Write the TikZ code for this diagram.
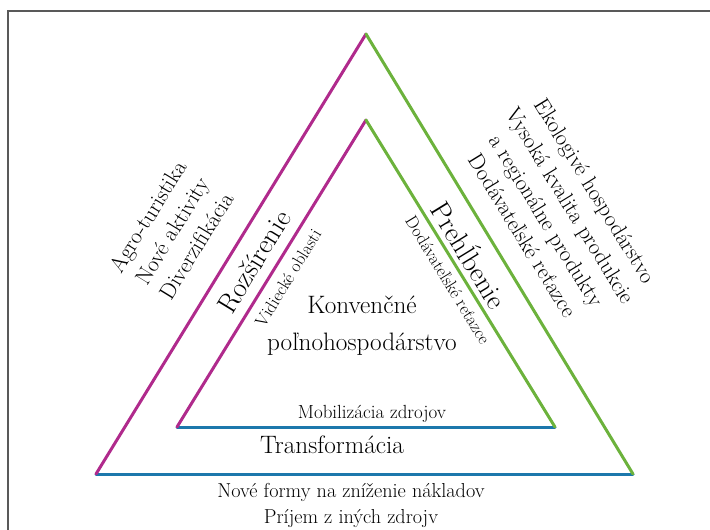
\documentclass[tikz,border=0pt]{standalone}
\usepackage{fontspec}
\usepackage{xcolor}

\definecolor{rozsir}{RGB}{176,42,140}
\definecolor{prehlb}{RGB}{108,178,60}
\definecolor{transf}{RGB}{28,120,172}

\begin{document}
\begin{tikzpicture} [x=1pt, y=-1pt, side/.style = {line width=3pt, line cap=round},
    big/.style = {font=\fontsize{28}{32}\selectfont},
    small/.style = {font=\fontsize{17.5}{20}\selectfont},
    outer/.style = {font=\fontsize{22.4}{28.5}\selectfont, align=center},
    lside/.style = {rotate=58.5}, rside/.style = {rotate=-58.5}]
    \useasboundingbox (0,0) rectangle (710,530);
    \draw[gray!70!black, line width=1.5pt] (8,530) -- (8,11) -- (710,11);

    \coordinate (A) at (366,34);
    \coordinate (B) at (96,474);
    \coordinate (C) at (633,474);
    \coordinate (a) at (366,120);
    \coordinate (b) at (177,427);
    \coordinate (c) at (555,427);

    \draw[side, transf] (B) -- (C);
    \draw[side, rozsir] (B) -- (A);
    \draw[side, prehlb] (A) -- (C);
    \draw[side, transf] (b) -- (c);
    \draw[side, rozsir] (b) -- (a);
    \draw[side, prehlb] (a) -- (c);

    \node[outer, lside] (vonkajsiL) at (172,231) {Agro-turistika\\Nové aktivity\\Diverzifikácia};
    \node[outer, rside] (vonkajsiP) at (559,213) {Ekologivé hospodárstvo\\Vysoká kvalita produkcie\\a regionálne produkty\\Dodávateľské reťazce};
    \node[big, lside] (rozsirenie) at (254,262) {Rozšírenie};
    \node[small, lside] (vidiecke) at (288,278) {Vidiecké oblasti};
    \node[big, rside] (prehlbenie) at (471,254) {Prehĺbenie};
    \node[small, rside] (retazce) at (448,280) {Dodávateľské reťazce};
    \node[font=\fontsize{25.2}{37}\selectfont, align=center] (konv) at (362,326) {Konvenčné\\poľnohospodárstvo};
    \node[font=\fontsize{19}{22}\selectfont, anchor=base] (mob) at (372,418) {Mobilizácia zdrojov};
    \node[font=\fontsize{25.2}{30}\selectfont, anchor=base] (transf) at (332,453) {Transformácia};
    \node[font=\fontsize{20.2}{26}\selectfont, align=center] (nove) at (351,505) {Nové formy na zníženie nákladov\\Príjem z iných zdrojv};

  \end{tikzpicture}
\end{document}
